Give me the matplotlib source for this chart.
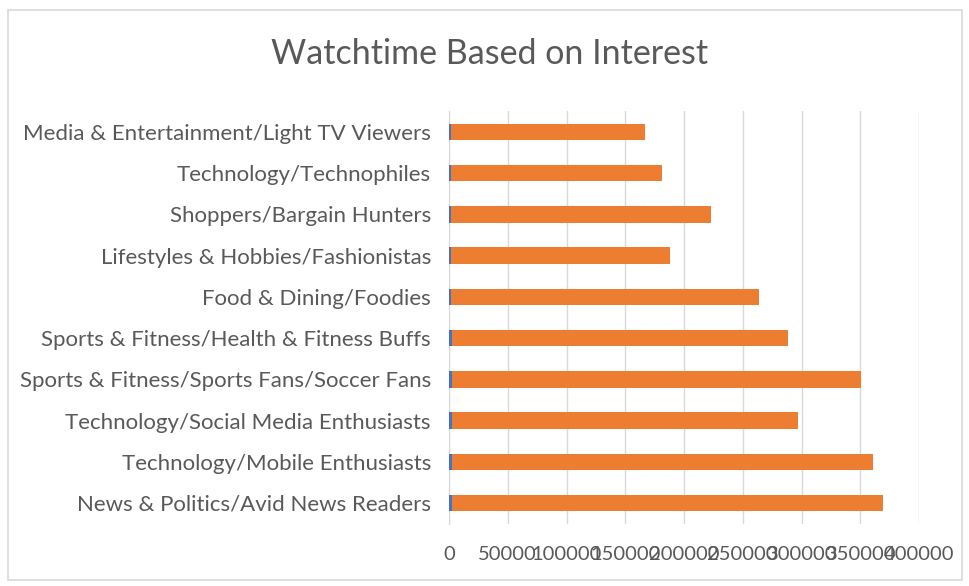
import matplotlib.pyplot as plt
from matplotlib.patches import Rectangle

categories = [
    "News & Politics/Avid News Readers",
    "Technology/Mobile Enthusiasts",
    "Technology/Social Media Enthusiasts",
    "Sports & Fitness/Sports Fans/Soccer Fans",
    "Sports & Fitness/Health & Fitness Buffs",
    "Food & Dining/Foodies",
    "Lifestyles & Hobbies/Fashionistas",
    "Shoppers/Bargain Hunters",
    "Technology/Technophiles",
    "Media & Entertainment/Light TV Viewers",
]
users = [2600, 2500, 2400, 2500, 2300, 2100, 1600, 1900, 1500, 1400]
watchtime = [366800, 358100, 294600, 348100, 286200, 261700, 186400, 221100, 179800, 165400]
xticks = [0, 50000, 100000, 150000, 200000, 250000, 300000, 350000, 400000]

plt.rcParams['font.family'] = ['Lato', 'DejaVu Sans']
text_color = "#595959"

fig = plt.figure(figsize=(9.69, 5.86), dpi=100)
fig.patches.append(Rectangle((8 / 969, 6 / 586), 954 / 969, 570 / 586,
                             transform=fig.transFigure, fill=False,
                             edgecolor="#D9D9D9", linewidth=1.2))

ax = fig.add_axes([449 / 969, 1 - 523.6 / 586, 470 / 969, 412.2 / 586])

y = range(len(categories))
ax.barh(y, users, height=0.4, color="#4472C4", zorder=3)
ax.barh(y, watchtime, left=users, height=0.4, color="#ED7D31", zorder=3)

ax.set_ylim(-0.5, len(categories) - 0.5)
ax.set_xlim(0, 400000)
ax.set_yticks(list(y))
ax.set_yticklabels(categories, fontsize=16, color=text_color)
ax.set_xticks(xticks)
ax.set_xticklabels([str(t) for t in xticks], fontsize=14.5, color=text_color)
ax.tick_params(axis="both", length=0)
ax.tick_params(axis="y", pad=13)
ax.tick_params(axis="x", pad=16)

ax.grid(axis="x", color="#D9D9D9", linewidth=1, zorder=0)
for side in ["top", "right", "bottom"]:
    ax.spines[side].set_visible(False)
ax.spines["left"].set_color("#D9D9D9")

fig.text(490 / 969, 1 - 54 / 586, "Watchtime Based on Interest",
         ha="center", va="center", fontsize=24.5, color=text_color)

fig.savefig("out.png", dpi=100)
